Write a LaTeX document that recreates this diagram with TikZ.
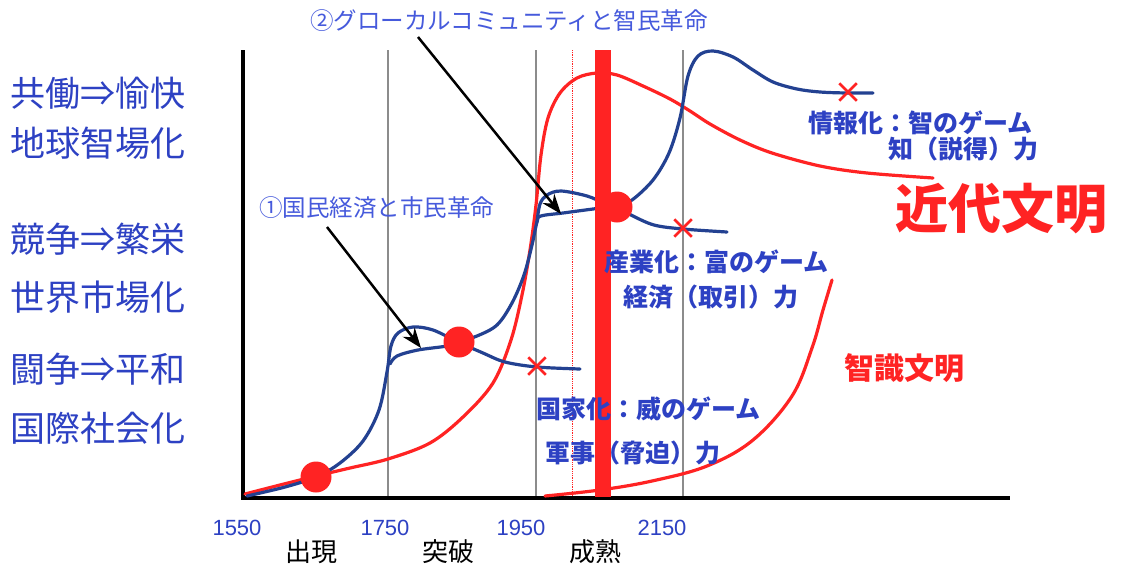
\documentclass[tikz,border=0pt]{standalone}
\usepackage{fontspec}
\setmainfont{Noto Sans CJK JP}
\newfontfamily\lat{Liberation Sans}
\usetikzlibrary{arrows.meta,shapes.misc}
\definecolor{txtblue}{RGB}{45,65,195}
\definecolor{lightblue}{RGB}{70,90,220}
\definecolor{curveblue}{RGB}{35,65,145}
\definecolor{myred}{RGB}{255,35,35}
\definecolor{gridgray}{RGB}{140,140,140}
\tikzset{
  blueline/.style={curveblue,line width=3.2pt,line cap=round,line join=round},
  redline/.style={myred,line width=3.2pt,line cap=round,line join=round},
  gridline/.style={gridgray,line width=1.5pt},
  dot/.style={circle,fill=myred,inner sep=0pt,minimum size=31pt},
  xmark/.style={cross out,draw=myred,line width=2.5pt,minimum size=15pt,inner sep=0pt},
  lefttxt/.style={anchor=west,txtblue,inner sep=0pt,font=\fontsize{35}{40}\selectfont},
  gamelbl/.style={txtblue,inner sep=0pt,font=\fontsize{25}{28}\selectfont\bfseries},
  toplbl/.style={lightblue,inner sep=0pt,font=\fontsize{23.5}{26}\selectfont},
  yearlbl/.style={txtblue,inner sep=0pt,font=\lat\fontsize{22}{24}\selectfont},
  stagelbl/.style={black,inner sep=0pt,font=\fontsize{26}{28}\selectfont},
  pointer/.style={black,line width=2.5pt,-{Stealth[length=20pt,width=15pt]}}
}
\begin{document}
\begin{tikzpicture}[x=1pt,y=-1pt]
\useasboundingbox (0,0) rectangle (1130,571);
\fill[white] (0,0) rectangle (1130,571);

% grid lines
\draw[gridline] (388,50) -- (388,497);
\draw[gridline] (536,50) -- (536,497);
\draw[gridline] (683,50) -- (683,497);
\draw[myred,line width=0.8pt,densely dotted] (572,50) -- (572,497);

% axes
\draw[black,line width=4pt] (243,50) -- (243,498) -- (1010,498);

% red curve 1 (modern civilisation)
\draw[redline] plot[smooth,tension=0.55] coordinates {(245,494) (280,485) (316,476) (350,468) (388,459) (430,443) (463,417) (493,383) (511,340) (522,295) (530,250) (536,205) (541,155) (548,118) (560,93) (577,78) (597,73) (617,75) (643,86) (670,99) (690,111) (710,124) (740,140) (772,153) (820,166) (867,173) (933,178)};

% red curve 2 (knowledge civilisation)
\draw[redline] plot[smooth,tension=0.6] coordinates {(545,496) (600,490) (652,481) (707,466) (753,440) (792,396) (812,348) (823,310) (832,280)};

% blue curves
\draw[blueline] plot[smooth,tension=0.55] coordinates {(247,496) (285,487) (316,477) (340,463) (363,441) (379,410) (387,372) (391,346) (398,333) (413,327) (433,330) (458,342) (483,353) (505,362) (537,367) (580,369)};
\draw[blueline] plot[smooth,tension=0.55] coordinates {(390,364) (397,356) (418,350) (447,346) (458,342) (477,336) (497,325) (512,303) (524,275) (532,245) (537,222) (541,216) (563,213) (593,209) (617,206) (632,200) (653,180) (669,153) (680,118) (688,76) (698,56) (713,51) (733,57) (753,70) (773,82) (797,89) (820,92) (847,93) (873,93)};
\draw[blueline] plot[smooth,tension=0.55] coordinates {(537,222) (540,204) (547,195) (561,191) (587,196) (604,203) (617,207) (631,215) (654,225) (683,229) (727,232)};

% thick red bar
\fill[myred] (595,50) rectangle (611,497);

% dots and crosses
\node[dot] (d1) at (316,477) {};
\node[dot] (d2) at (459,342) {};
\node[dot] (d3) at (617,207) {};
\node[xmark] (x1) at (537,366) {};
\node[xmark] (x2) at (683,228) {};
\node[xmark] (x3) at (848,92) {};

% left texts
\node[lefttxt] (l1) at (10,93) {共働⇒愉快};
\node[lefttxt] (l2) at (10,143) {地球智場化};
\node[lefttxt] (l3) at (10,239) {競争⇒繁栄};
\node[lefttxt] (l4) at (10,297) {世界市場化};
\node[lefttxt] (l5) at (10,369) {闘争⇒平和};
\node[lefttxt] (l6) at (10,428) {国際社会化};

% top labels and pointers
\node[toplbl,anchor=west] (t2) at (310,21) {②グローカルコミュニティと智民革命};
\node[toplbl,anchor=west] (t1) at (259,208) {①国民経済と市民革命};
\coordinate (a1s) at (327,227);
\coordinate (a1e) at (421,348);
\coordinate (a2s) at (418,37);
\coordinate (a2e) at (561,214);
\draw[pointer] (a1s) -- (a1e);
\draw[pointer] (a2s) -- (a2e);

% game labels
\node[gamelbl,anchor=west] (g1) at (808,123) {情報化：智のゲーム};
\node[gamelbl,anchor=west] (g1b) at (888,149) {知（説得）力};
\node[gamelbl,anchor=west] (g2) at (604,262) {産業化：富のゲーム};
\node[gamelbl,anchor=west] (g2b) at (623,297) {経済（取引）力};
\node[gamelbl,anchor=west] (g3) at (536,409) {国家化：威のゲーム};
\node[gamelbl,anchor=west] (g3b) at (545,453) {軍事（脅迫）力};

% civilisation labels
\node[myred,inner sep=0pt,anchor=west,font=\fontsize{53}{56}\selectfont\bfseries] (c1) at (895,209) {近代文明};
\node[myred,inner sep=0pt,anchor=west,font=\fontsize{30}{32}\selectfont\bfseries] (c2) at (844,368) {智識文明};

% year labels
\node[yearlbl] (y1) at (237,528) {1550};
\node[yearlbl] (y2) at (385,528) {1750};
\node[yearlbl] (y3) at (521,528) {1950};
\node[yearlbl] (y4) at (662,528) {2150};

% stage labels
\node[stagelbl] (s1) at (311,552) {出現};
\node[stagelbl] (s2) at (448,552) {突破};
\node[stagelbl] (s3) at (595,552) {成熟};
\end{tikzpicture}
\end{document}
